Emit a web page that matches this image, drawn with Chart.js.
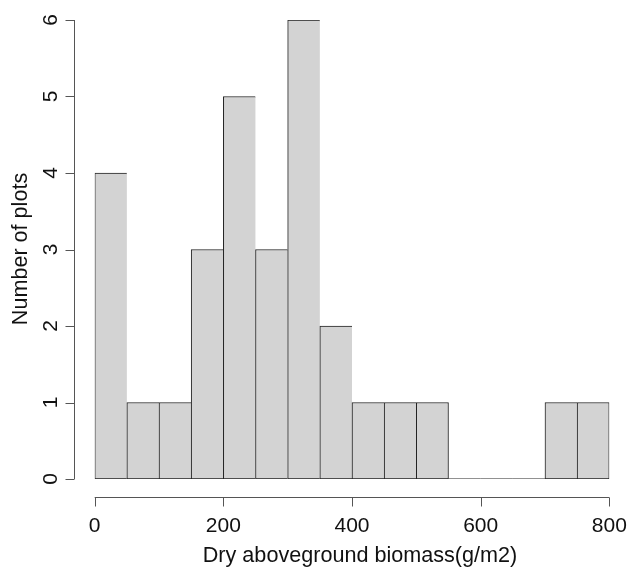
<!DOCTYPE html>
<html>
<head>
<meta charset="utf-8">
<script src="https://cdn.jsdelivr.net/npm/chart.js@4"></script>
<style>
  body { margin: 0; background: #fff; }
  #wrap { width: 630px; height: 567px; }
</style>
</head>
<body>
<div id="wrap"><canvas id="hist" width="630" height="567"></canvas></div>
<script>
// histogram bins (g/m2) and counts
const binStarts = [0, 50, 100, 150, 200, 250, 300, 350, 400, 450, 500, 550, 600, 650, 700, 750];
const binWidth = 50;
const counts = [4, 1, 1, 3, 5, 3, 6, 2, 1, 1, 1, 0, 0, 0, 1, 1];
const xTicks = [0, 200, 400, 600, 800];
const yTicks = [0, 1, 2, 3, 4, 5, 6];
const xTitle = 'Dry aboveground biomass(g/m2)';
const yTitle = 'Number of plots';

const TICK_FONT = '21px "Liberation Sans", Arial, sans-serif';
const TITLE_FONT = '21.6px "Liberation Sans", Arial, sans-serif';

const barData = binStarts.map((s, i) => ({ x: s + binWidth / 2, y: counts[i] }));

// empty bins are drawn as a flat line on zero
const emptyLine = [];
binStarts.forEach((s, i) => {
  if (counts[i] === 0) {
    emptyLine.push({ x: s, y: 0 });
    emptyLine.push({ x: s + binWidth, y: 0 });
  }
});

// R style axes, detached from the bars
const rAxes = {
  id: 'rAxes',
  afterDraw(chart) {
    const ctx = chart.ctx;
    const xs = chart.scales.x;
    const ys = chart.scales.y;
    const axisY = 497.5;
    const axisX = 74.5;
    ctx.save();
    ctx.strokeStyle = '#555';
    ctx.lineWidth = 1;
    ctx.fillStyle = '#111';
    ctx.font = TICK_FONT;

    // x axis
    ctx.beginPath();
    ctx.moveTo(xs.getPixelForValue(xTicks[0]), axisY);
    ctx.lineTo(xs.getPixelForValue(xTicks[xTicks.length - 1]), axisY);
    xTicks.forEach(t => {
      const px = Math.round(xs.getPixelForValue(t)) + 0.5;
      ctx.moveTo(px, axisY);
      ctx.lineTo(px, axisY + 9);
    });
    ctx.stroke();
    ctx.textAlign = 'center';
    ctx.textBaseline = 'alphabetic';
    xTicks.forEach(t => ctx.fillText(String(t), xs.getPixelForValue(t), 532));

    // y axis
    ctx.beginPath();
    ctx.moveTo(axisX, ys.getPixelForValue(yTicks[0]));
    ctx.lineTo(axisX, ys.getPixelForValue(yTicks[yTicks.length - 1]));
    yTicks.forEach(t => {
      const py = Math.round(ys.getPixelForValue(t)) + 0.5;
      ctx.moveTo(axisX, py);
      ctx.lineTo(axisX - 9, py);
    });
    ctx.stroke();
    yTicks.forEach(t => {
      ctx.save();
      ctx.translate(57, ys.getPixelForValue(t));
      ctx.rotate(-Math.PI / 2);
      ctx.fillText(String(t), 0, 0);
      ctx.restore();
    });

    // axis titles
    ctx.font = TITLE_FONT;
    ctx.fillText(xTitle, 360, 562);
    ctx.save();
    ctx.translate(27, 249);
    ctx.rotate(-Math.PI / 2);
    ctx.fillText(yTitle, 0, 0);
    ctx.restore();
    ctx.restore();
  }
};

new Chart(document.getElementById('hist'), {
  type: 'bar',
  data: {
    datasets: [{
      type: 'bar',
      data: barData,
      backgroundColor: '#D3D3D3',
      borderColor: '#222',
      borderWidth: c => {
        const i = c.dataIndex;
        const rightOpen = i === counts.length - 1 || counts[i + 1] === 0;
        return { top: 1, bottom: 1, left: 1, right: rightOpen ? 1 : 0 };
      },
      borderSkipped: false,
      barPercentage: 1,
      categoryPercentage: 1
    }, {
      type: 'line',
      data: emptyLine,
      borderColor: '#222',
      borderWidth: 1,
      pointRadius: 0,
      fill: false
    }]
  },
  options: {
    responsive: false,
    animation: false,
    layout: { padding: { left: 94.7, right: 20.7, top: 20, bottom: 88 } },
    plugins: { legend: { display: false }, tooltip: { enabled: false } },
    scales: {
      x: { type: 'linear', min: 0, max: 800, offset: false, display: false, ticks: { stepSize: 200 } },
      y: { min: 0, max: 6, display: false }
    }
  },
  plugins: [rAxes]
});
</script>
</body>
</html>
